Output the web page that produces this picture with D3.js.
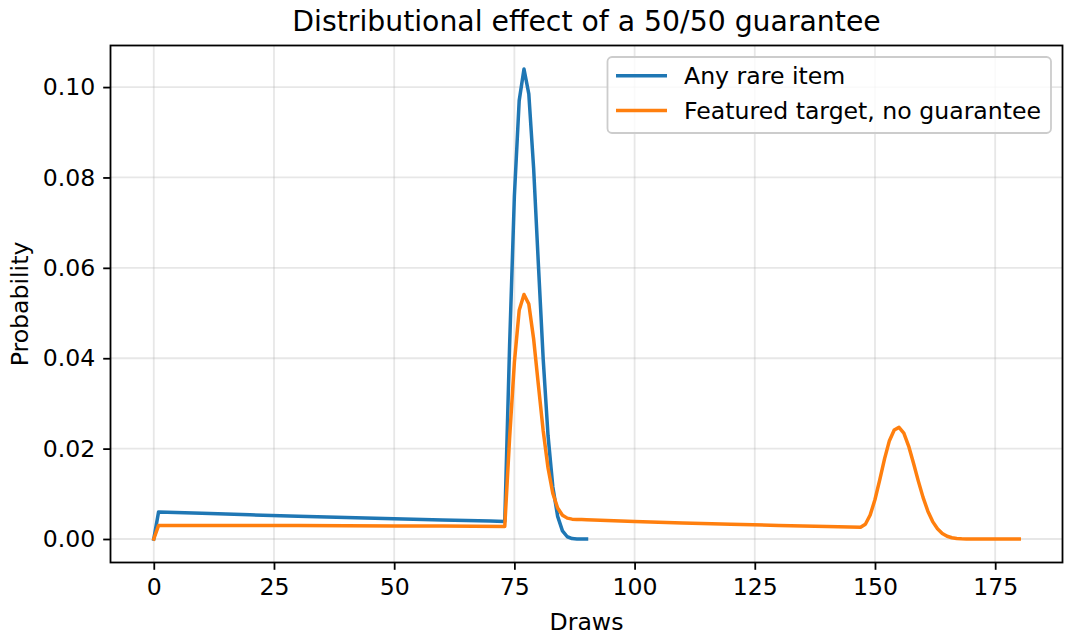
<!DOCTYPE html>
<html>
<head>
<meta charset="utf-8">
<script src="https://cdn.jsdelivr.net/npm/d3@7"></script>
<style>
  html, body { margin: 0; padding: 0; background: #fff; }
  svg { display: block; font-family: "DejaVu Sans", sans-serif; }
</style>
</head>
<body>
<svg id="chart" width="1072" height="639"></svg>
<script>
// ---- Data ----
const titleText = "Distributional effect of a 50/50 guarantee";
const xLabel = "Draws";
const yLabel = "Probability";
const seriesNames = ["Any rare item", "Featured target, no guarantee"];
const seriesColors = ["#1f77b4", "#ff7f0e"];

const xTicks = [0, 25, 50, 75, 100, 125, 150, 175];
const yTicks = [0.00, 0.02, 0.04, 0.06, 0.08, 0.10];

// Series 1: any rare item
const anyDraws = [0, 1, 10, 20, 30, 40, 50, 60, 70, 73,
  74, 75, 76, 77, 78, 79, 80, 81, 82, 83, 84, 85, 86, 87, 88, 89, 90];
const anyProb = [0, 0.00600, 0.00568, 0.00535, 0.00504, 0.00474, 0.00447, 0.00420, 0.00396, 0.00389,
  0.0426, 0.0759, 0.0970, 0.1040, 0.0985, 0.0821, 0.0606, 0.0397, 0.0229, 0.0115, 0.0050, 0.0018, 0.0005, 0.0001, 0.00002, 0.0, 0.0];

// Series 2: featured target without guarantee
const featDraws = [0, 1, 10, 20, 30, 40, 50, 60, 73,
  74, 75, 76, 77, 78, 79, 80, 81, 82, 83, 84, 85, 86, 87, 88, 89, 90,
  100, 110, 120, 130, 140, 147,
  148, 149, 150, 151, 152, 153, 154, 155, 156, 157, 158, 159, 160, 161, 162, 163, 164, 165, 166, 167, 168, 169, 170, 180];
const featProb = [0, 0.00300, 0.00298, 0.00298, 0.00296, 0.00293, 0.00289, 0.00285, 0.00279,
  0.0222, 0.0391, 0.0506, 0.0541, 0.0520, 0.0443, 0.0340, 0.0239, 0.0157, 0.0101, 0.00687, 0.00527, 0.00462, 0.00439, 0.00430, 0.00429, 0.00427,
  0.00388, 0.00356, 0.00326, 0.00299, 0.00274, 0.00259,
  0.00327, 0.00530, 0.00874, 0.01314, 0.01779, 0.02176, 0.02410, 0.02470, 0.02343, 0.02057, 0.01683, 0.01287, 0.00921, 0.00616, 0.00385, 0.00225, 0.00122, 0.00061, 0.00028, 0.00012, 0.00005, 0.00002, 0.0, 0.0];

// ---- Layout ----
const svg = d3.select("#chart");
const plot = { left: 110.5, right: 1062.5, top: 45.5, bottom: 562.5 };

const x = d3.scaleLinear().domain([-9, 189]).range([plot.left, plot.right]);
const y = d3.scaleLinear().domain([-0.0052, 0.1092]).range([plot.bottom, plot.top]);

const FONT = 23.6;

// grid
const grid = svg.append("g");
grid.selectAll("line.gx").data(xTicks).join("line")
  .attr("x1", d => x(d)).attr("x2", d => x(d))
  .attr("y1", plot.top).attr("y2", plot.bottom)
  .attr("stroke", "#b0b0b0").attr("stroke-opacity", 0.3).attr("stroke-width", 1.8);
grid.selectAll("line.gy").data(yTicks).join("line")
  .attr("y1", d => y(d)).attr("y2", d => y(d))
  .attr("x1", plot.left).attr("x2", plot.right)
  .attr("stroke", "#b0b0b0").attr("stroke-opacity", 0.3).attr("stroke-width", 1.8);

// lines
const lineGen = d3.line().x(d => x(d[0])).y(d => y(d[1]));
const seriesData = [
  d3.zip(anyDraws, anyProb),
  d3.zip(featDraws, featProb)
];
svg.append("clipPath").attr("id", "clip").append("rect")
  .attr("x", plot.left).attr("y", plot.top)
  .attr("width", plot.right - plot.left).attr("height", plot.bottom - plot.top);
svg.append("g").attr("clip-path", "url(#clip)")
  .selectAll("path").data(seriesData).join("path")
  .attr("d", d => lineGen(d))
  .attr("fill", "none")
  .attr("stroke", (d, i) => seriesColors[i])
  .attr("stroke-width", 3.5)
  .attr("stroke-linejoin", "round")
  .attr("stroke-linecap", "square");

// axes
const xAxis = d3.axisBottom(x).tickValues(xTicks).tickFormat(d3.format("d")).tickSize(7.3).tickPadding(8);
const yAxis = d3.axisLeft(y).tickValues(yTicks).tickFormat(d3.format(".2f")).tickSize(7.3).tickPadding(8);

const gx = svg.append("g").attr("transform", `translate(0,${plot.bottom})`).call(xAxis);
const gy = svg.append("g").attr("transform", `translate(${plot.left},0)`).call(yAxis);
[gx, gy].forEach(g => {
  g.select(".domain").remove();
  g.selectAll(".tick line").attr("stroke", "#000").attr("stroke-width", 1.8);
  g.selectAll(".tick text").attr("fill", "#000").attr("font-size", FONT)
    .attr("font-family", "DejaVu Sans, sans-serif");
});
gx.selectAll(".tick text").attr("dy", "0.71em");

// frame
svg.append("rect")
  .attr("x", plot.left).attr("y", plot.top)
  .attr("width", plot.right - plot.left).attr("height", plot.bottom - plot.top)
  .attr("fill", "none").attr("stroke", "#000").attr("stroke-width", 1.8);

// labels
svg.append("text").attr("x", (plot.left + plot.right) / 2).attr("y", 31)
  .attr("text-anchor", "middle").attr("font-size", 28.3).attr("fill", "#000").text(titleText);
svg.append("text").attr("x", (plot.left + plot.right) / 2).attr("y", 630)
  .attr("text-anchor", "middle").attr("font-size", FONT).attr("fill", "#000").text(xLabel);
svg.append("text").attr("transform", `translate(28,${(plot.top + plot.bottom) / 2}) rotate(-90)`)
  .attr("text-anchor", "middle").attr("font-size", FONT).attr("fill", "#000").text(yLabel);

// legend
const leg = svg.append("g");
leg.append("rect").attr("x", 607.5).attr("y", 57).attr("width", 443.5).attr("height", 76)
  .attr("rx", 4.5).attr("ry", 4.5)
  .attr("fill", "#fff").attr("fill-opacity", 0.8)
  .attr("stroke", "#cccccc").attr("stroke-width", 1.8);
const legRows = leg.selectAll("g.row").data(seriesNames).join("g")
  .attr("transform", (d, i) => `translate(0,${75.7 + i * 34.7})`);
legRows.append("line").attr("x1", 616).attr("x2", 667).attr("y1", 0).attr("y2", 0)
  .attr("stroke", (d, i) => seriesColors[i]).attr("stroke-width", 3.5);
legRows.append("text").attr("x", 684).attr("y", 0).attr("dy", "0.35em")
  .attr("font-size", FONT).attr("fill", "#000").text(d => d);
</script>
</body>
</html>
